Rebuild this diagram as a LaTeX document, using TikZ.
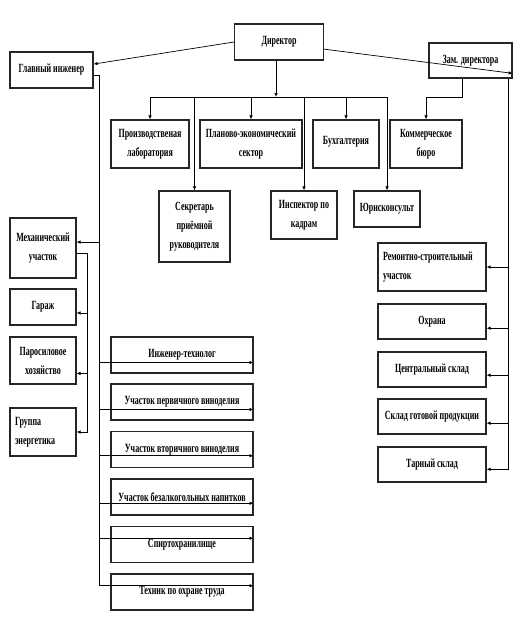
\documentclass[tikz,border=0pt]{standalone}
\usepackage{fontspec}
\setmainfont[FakeStretch=0.64]{Liberation Serif}
\usetikzlibrary{arrows.meta}

\begin{document}
\begin{tikzpicture}[
    x=1pt, y=-1pt,
    >={Latex[length=4pt,width=3.5pt]},
    line width=0.7pt,
    unit/.style={rectangle,draw=black!85,line width=1.1pt,fill=white,inner sep=2pt,
      align=center,font=\bfseries\fontsize{12.5}{19}\selectfont},
    leftunit/.style={unit,align=left,inner xsep=5pt},
    dims/.style 2 args={minimum width=#1,minimum height=#2}
    ]
    \useasboundingbox (0,0) rectangle (526,624);

    % top level
    \node (dir) at (279, 42) [unit, dims={89}{36}] {Директор};
    \node (glav) at (51.5, 70) [unit, dims={83}{36}] {Главный инженер};
    \node (zam) at (470.5, 60.5) [unit, dims={83}{35}] {Зам. директора};

    % under the director
    \node (prod) at (150, 144) [unit, dims={78}{48}] {Производственая\\лаборатория};
    \node (plan) at (251, 144) [unit, dims={102}{48}] {Планово-экономический\\сектор};
    \node (buh) at (346, 144) [unit, dims={66}{48}] {\raisebox{7pt}{Бухгалтерия}};
    \node (komm) at (426, 144) [unit, dims={72}{48}] {Коммерческое\\бюро};
    \node (sekr) at (194.5, 226.5) [unit, dims={71}{71}] {Секретарь\\приёмной\\руководителя};
    \node (insp) at (304, 215) [unit, dims={66}{48}] {Инспектор по\\кадрам};
    \node (jur) at (387, 209) [unit, dims={66}{36}] {Юрисконсульт};

    % chief engineer, left column
    \node (meh) at (43, 248) [unit, dims={66}{60}] {Механический\\участок};
    \node (garazh) at (43, 307) [unit, dims={66}{36}] {Гараж};
    \node (paro) at (43, 360.5) [unit, dims={66}{47}] {Паросиловое\\хозяйство};
    \node (grup) at (43, 432) [leftunit, text width=56, minimum height=48] {Группа\\энергетика};

    % chief engineer, middle column
    \node (ing) at (182, 355) [unit, dims={142}{36}] {Инженер-технолог};
    \node (perv) at (182, 402) [unit, dims={142}{36}] {Участок первичного виноделия};
    \node (vtor) at (182, 449.5) [unit, dims={142}{36}] {Участок вторичного виноделия};
    \node (bezalk) at (182, 497) [unit, dims={142}{36}] {Участок безалкогольных напитков};
    \node (spirt) at (182, 544.5) [unit, dims={142}{36}] {Спиртохранилище};
    \node (tech) at (182, 592) [unit, dims={142}{36}] {Техник по охране труда};

    % deputy director, right column
    \node (remont) at (432, 267) [leftunit, text width=98, minimum height=48] {Ремонтно-строительный\\участок};
    \node (ohr) at (432, 321.5) [unit, dims={108}{35}] {Охрана};
    \node (centr) at (432, 369.5) [unit, dims={108}{35}] {Центральный склад};
    \node (gotov) at (432, 416.5) [unit, dims={108}{35}] {Склад готовой продукции};
    \node (tar) at (432, 464.5) [unit, dims={108}{35}] {Тарный склад};

    \coordinate (dbus) at (276, 97);
    \coordinate (gbus) at ([xshift=6pt,yshift=-5pt]glav.east);
    \coordinate (mbus) at ([xshift=11pt]meh.-9);
    \coordinate (zbus) at ([xshift=-4pt]zam.south east);

    \draw [->] (dir.west) to (glav.8);
    \draw [->] (dir.-9) to (zam.-17);

    % director bus
    \draw [->] (dir.south -| dbus) to (dbus);
    \draw (prod |- dbus) to (jur |- dbus);
    \draw [->] (prod |- dbus) to (prod);
    \draw [->] (sekr |- dbus) to (sekr);
    \draw [->] (plan |- dbus) to (plan);
    \draw [->] (insp |- dbus) to (insp);
    \draw [->] (buh |- dbus) to (buh);
    \draw [->] (jur |- dbus) to (jur);

    % deputy bus
    \draw [->] ([xshift=-8pt]zam.south) -- ++(0,19) -| (komm);
    \draw (zbus) to (zbus |- tar.-5);
    \draw [->] (zbus |- remont) to (remont);
    \draw [->] (zbus |- ohr.-7) to (ohr.-7);
    \draw [->] (zbus |- centr.-6) to (centr.-6);
    \draw [->] (zbus |- gotov.-7) to (gotov.-7);
    \draw [->] (zbus |- tar.-5) to (tar.-5);

    % chief engineer bus
    \draw (glav.east |- gbus) -- (gbus) -- (gbus |- tech.5);
    \draw [->] (gbus |- meh.10) to (meh.10);
    \draw [->] (gbus |- ing.-6) to (ing.-6);
    \draw [->] (gbus |- perv.-6) to (perv.-6);
    \draw [->] (gbus |- vtor.-5) to (vtor.-5);
    \draw [->] (gbus |- bezalk.-5) to (bezalk.-5);
    \draw [->] (gbus |- spirt.5) to (spirt.5);
    \draw [->] (gbus |- tech.5) to (tech.5);

    % mechanical shop bus
    \draw (meh.-9) -- (mbus) -- (mbus |- grup);
    \draw [->] (mbus |- garazh.-10) to (garazh.-10);
    \draw [->] (mbus |- paro.-21) to (paro.-21);
    \draw [->] (mbus |- grup) to (grup);

  \end{tikzpicture}
\end{document}
